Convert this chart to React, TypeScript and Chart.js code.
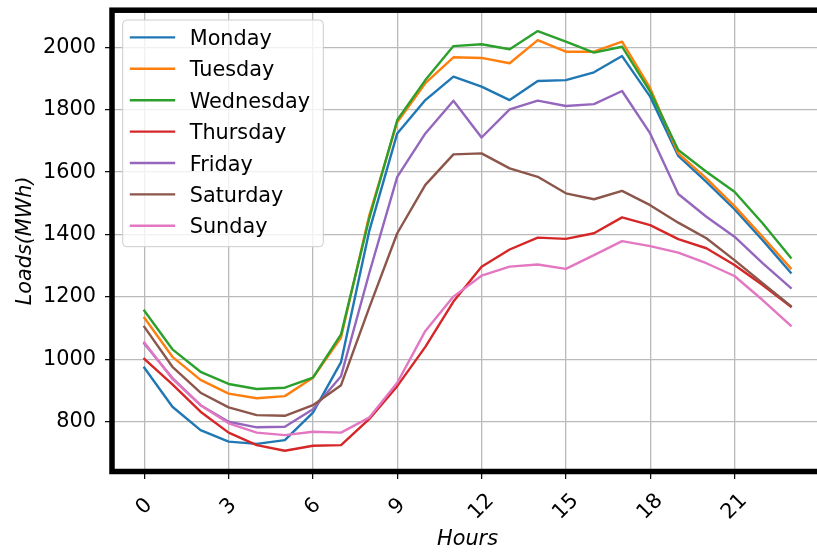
import React, { useEffect, useRef } from "react";
import { Chart, registerables } from "chart.js";

Chart.register(...registerables);

const HOURS = [0, 1, 2, 3, 4, 5, 6, 7, 8, 9, 10, 11, 12, 13, 14, 15, 16, 17, 18, 19, 20, 21, 22, 23];

const MONDAY = [973, 848, 773, 736, 729, 741, 829, 991, 1410, 1724, 1831, 1906, 1874, 1831, 1892, 1895, 1920, 1972, 1842, 1652, 1569, 1481, 1382, 1278];
const TUESDAY = [1133, 1008, 934, 890, 875, 882, 941, 1070, 1460, 1760, 1885, 1968, 1966, 1949, 2023, 1986, 1986, 2018, 1869, 1660, 1580, 1491, 1393, 1292];
const WEDNESDAY = [1156, 1032, 960, 921, 905, 909, 941, 1080, 1450, 1767, 1895, 2004, 2010, 1994, 2052, 2018, 1983, 2002, 1858, 1671, 1601, 1537, 1436, 1326];
const THURSDAY = [1001, 920, 832, 765, 725, 707, 723, 725, 808, 914, 1040, 1185, 1297, 1352, 1390, 1386, 1404, 1455, 1430, 1385, 1356, 1302, 1238, 1169];
const FRIDAY = [1050, 940, 853, 800, 782, 784, 840, 946, 1275, 1585, 1724, 1829, 1711, 1801, 1829, 1812, 1818, 1860, 1724, 1530, 1457, 1393, 1308, 1229];
const SATURDAY = [1104, 976, 893, 846, 821, 819, 853, 917, 1165, 1404, 1559, 1657, 1660, 1612, 1585, 1532, 1513, 1540, 1494, 1438, 1388, 1318, 1244, 1171];
const SUNDAY = [1054, 937, 853, 795, 765, 757, 768, 765, 813, 925, 1091, 1201, 1268, 1297, 1304, 1290, 1334, 1379, 1363, 1342, 1308, 1267, 1190, 1108];

const DAY_NAMES = ["Monday", "Tuesday", "Wednesday", "Thursday", "Friday", "Saturday", "Sunday"];
const DAY_VALUES = [MONDAY, TUESDAY, WEDNESDAY, THURSDAY, FRIDAY, SATURDAY, SUNDAY];
const DAY_COLORS = ["#1f77b4", "#ff7f0e", "#2ca02c", "#d62728", "#9467bd", "#8c564b", "#e377c2"];

const X_TICKS = [0, 3, 6, 9, 12, 15, 18, 21];
const Y_TICKS = [800, 1000, 1200, 1400, 1600, 1800, 2000];

const X_TITLE = "Hours";
const Y_TITLE = "Loads(MWh)";

const FONT_FAMILY = "'DejaVu Sans', sans-serif";
const FS = 20.8;
const LINE_W = 2.4;

const framePlugin = {
  id: "frame",
  afterDatasetsDraw(chart: any) {
    const { ctx, chartArea: a } = chart;
    ctx.save();
    ctx.strokeStyle = "#000";
    ctx.lineWidth = 5.5;
    ctx.lineJoin = "miter";
    ctx.strokeRect(a.left, a.top, a.right - a.left, a.bottom - a.top);
    ctx.restore();
  },
};

const boxLegendPlugin = {
  id: "boxLegend",
  afterDraw(chart: any) {
    const { ctx, chartArea: a } = chart;
    const x0 = a.left + 10.7;
    const y0 = a.top + 9.8;
    const w = 200.6;
    const h = 226.7;
    const r = 4;
    ctx.save();
    ctx.beginPath();
    ctx.moveTo(x0 + r, y0);
    ctx.lineTo(x0 + w - r, y0);
    ctx.arcTo(x0 + w, y0, x0 + w, y0 + r, r);
    ctx.lineTo(x0 + w, y0 + h - r);
    ctx.arcTo(x0 + w, y0 + h, x0 + w - r, y0 + h, r);
    ctx.lineTo(x0 + r, y0 + h);
    ctx.arcTo(x0, y0 + h, x0, y0 + h - r, r);
    ctx.lineTo(x0, y0 + r);
    ctx.arcTo(x0, y0, x0 + r, y0, r);
    ctx.closePath();
    ctx.fillStyle = "rgba(255,255,255,0.8)";
    ctx.fill();
    ctx.strokeStyle = "#cccccc";
    ctx.lineWidth = 1;
    ctx.stroke();

    ctx.font = `${FS}px ${FONT_FAMILY}`;
    ctx.textAlign = "left";
    ctx.textBaseline = "alphabetic";
    chart.data.datasets.forEach((ds: any, i: number) => {
      const cy = y0 + 17.4 + i * 31.4;
      ctx.beginPath();
      ctx.strokeStyle = ds.borderColor;
      ctx.lineWidth = LINE_W;
      ctx.lineCap = "square";
      ctx.moveTo(x0 + 8.3, cy);
      ctx.lineTo(x0 + 51.3, cy);
      ctx.stroke();
      ctx.fillStyle = "#000";
      ctx.fillText(ds.label, x0 + 67, cy + 7.6);
    });
    ctx.restore();
  },
};

export default function App() {
  const canvasRef = useRef<HTMLCanvasElement | null>(null);

  useEffect(() => {
    if (!canvasRef.current) return;
    const tickFont = { family: FONT_FAMILY, size: FS };
    const titleFont = { family: FONT_FAMILY, size: FS, style: "italic" as const };
    const chart = new Chart(canvasRef.current, {
      type: "line",
      data: {
        datasets: DAY_NAMES.map((name, i) => ({
          label: name,
          data: HOURS.map((hr, j) => ({ x: hr, y: DAY_VALUES[i][j] })),
          borderColor: DAY_COLORS[i],
          backgroundColor: DAY_COLORS[i],
          borderWidth: LINE_W,
          borderJoinStyle: "round" as const,
          borderCapStyle: "square" as const,
          pointRadius: 0,
          tension: 0,
          fill: false,
          order: DAY_NAMES.length - 1 - i,
        })),
      },
      options: {
        animation: false,
        responsive: false,
        devicePixelRatio: 1,
        events: [],
        layout: { padding: { left: 0, top: 10.2, right: 12, bottom: 0 } },
        plugins: {
          legend: { display: false },
          tooltip: { enabled: false },
        },
        scales: {
          x: {
            type: "linear",
            min: -1.15,
            max: 24.15,
            afterBuildTicks: (s: any) => {
              s.ticks = X_TICKS.map((v) => ({ value: v }));
              s._getXAxisLabelAlignment = () => "center";
            },
            afterFit: (s: any) => {
              s.height = 80.5;
              s.paddingLeft = 0;
              s.paddingRight = 0;
              s.paddingTop = 0;
              s.paddingBottom = 0;
            },
            ticks: {
              autoSkip: false,
              minRotation: 45,
              maxRotation: 45,
              padding: 19,
              color: "#000",
              font: tickFont,
              callback: (v: any) => String(v),
            },
            grid: {
              color: "#bababa",
              lineWidth: 1.3,
              tickColor: "#000",
              tickLength: 7.5,
              tickWidth: 1.2,
            },
            border: { display: false },
            title: {
              display: true,
              text: X_TITLE,
              color: "#000",
              font: titleFont,
              padding: { top: 0, bottom: 0 },
            },
          },
          y: {
            type: "linear",
            min: 640.4,
            max: 2119,
            afterBuildTicks: (s: any) => {
              s.ticks = Y_TICKS.map((v) => ({ value: v }));
            },
            afterFit: (s: any) => {
              s.width = 112;
              s.paddingLeft = 0;
              s.paddingRight = 0;
              s.paddingTop = 0;
              s.paddingBottom = 0;
            },
            ticks: {
              padding: 9,
              color: "#000",
              font: tickFont,
              callback: (v: any) => String(v),
            },
            grid: {
              color: "#bababa",
              lineWidth: 1.3,
              tickColor: "#000",
              tickLength: 7,
              tickWidth: 1.2,
            },
            border: { display: false },
            title: {
              display: true,
              text: Y_TITLE,
              color: "#000",
              font: titleFont,
              padding: { top: 12.8, bottom: 0 },
            },
          },
        },
      } as any,
      plugins: [framePlugin, boxLegendPlugin],
    });
    return () => chart.destroy();
  }, []);

  return (
    <div
      style={{
        position: "fixed",
        left: 0,
        top: 0,
        width: 817,
        height: 552,
        overflow: "hidden",
        background: "#fff",
      }}
    >
      <canvas ref={canvasRef} width={835} height={552} style={{ display: "block", width: 835, height: 552 }} />
    </div>
  );
}
